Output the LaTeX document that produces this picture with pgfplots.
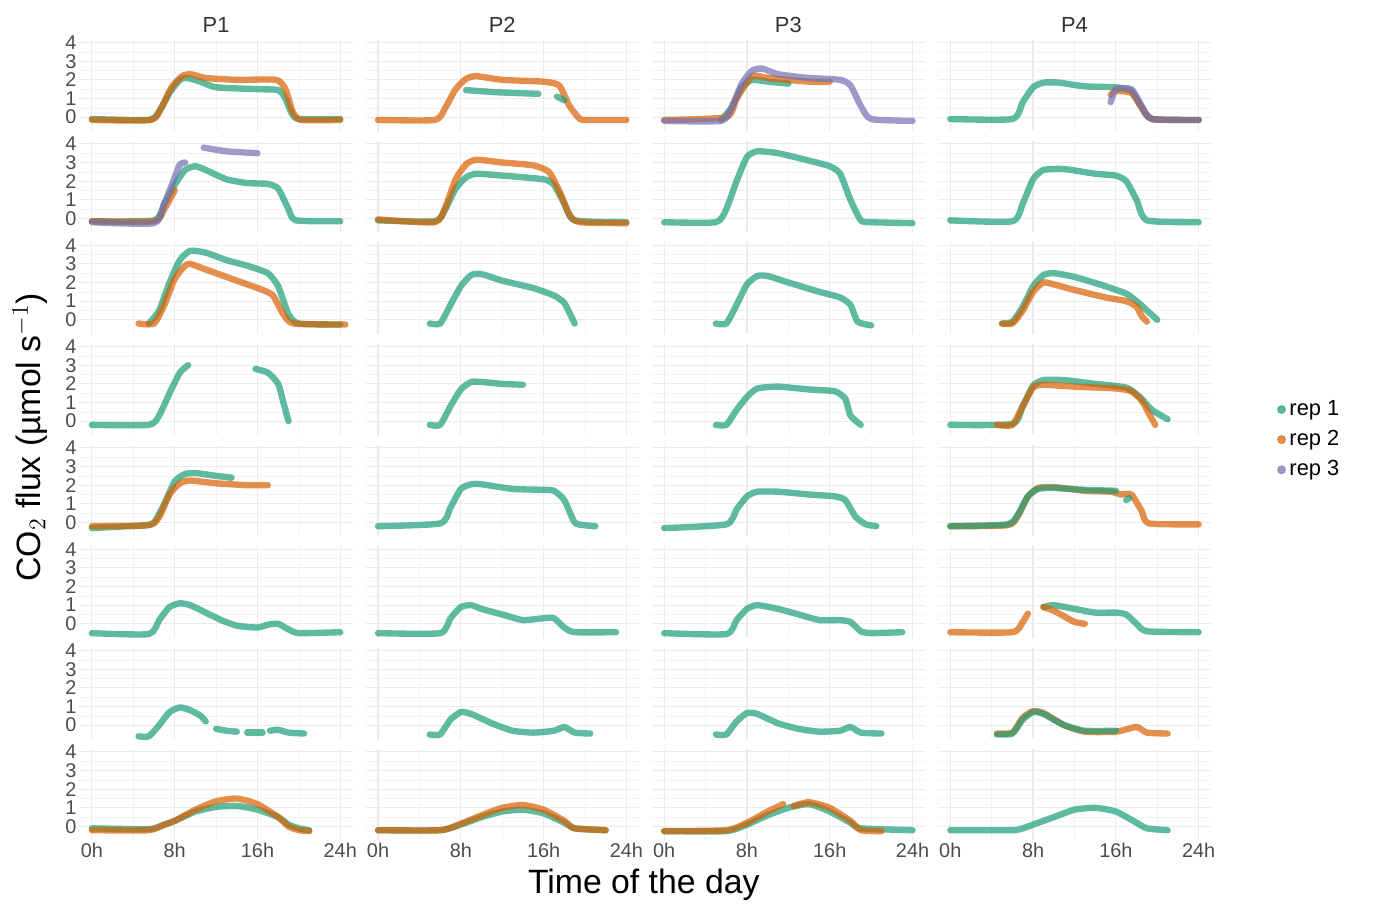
\documentclass[border=0pt]{standalone}
\usepackage{pgfplots}
\pgfplotsset{compat=1.18}
\usepgfplotslibrary{groupplots}
\usepackage{fontspec}
\setmainfont{Liberation Sans}
\definecolor{ca}{HTML}{1B9E77}
\definecolor{cb}{HTML}{D95F02}
\definecolor{cc}{HTML}{7570B3}
\definecolor{gridc}{HTML}{EBEBEB}
\tikzset{
 r1/.style={color=ca,line width=3.2pt,opacity=0.7,line cap=round,line join=round,smooth,tension=0.35},
 r2/.style={color=cb,line width=3.2pt,opacity=0.7,line cap=round,line join=round,smooth,tension=0.35},
 r3/.style={color=cc,line width=3.2pt,opacity=0.7,line cap=round,line join=round,smooth,tension=0.35},
}
\newcommand{\rl}[1]{\node[rotate=-90,font=\fontsize{11}{12}\selectfont,text=black!80] at (rel axis cs:1.045,0.5) {#1};}
\begin{document}
\begin{tikzpicture}
\begin{groupplot}[
 group style={group size=4 by 8, horizontal sep=6.5pt, vertical sep=5pt,
   xticklabels at=edge bottom, yticklabels at=edge left},
 width=137.5pt, height=46pt, scale only axis,
 xmin=-1.2, xmax=25.2, ymin=-0.75, ymax=4.15,
 axis line style={draw=none}, tick style={draw=none},
 xtick={0,8,16,24}, xticklabels={0h,8h,16h,24h},
 minor xtick={4,12,20}, ytick={0,1,2,3,4}, minor ytick={0.5,1.5,2.5,3.5},
 grid=both, major grid style={gridc,line width=0.6pt}, minor grid style={gridc!60,line width=0.3pt},
 tick label style={font=\fontsize{10}{11}\selectfont,text=black!70},
 /pgf/number format/assume math mode=true,
 xticklabel style={yshift=2pt}, yticklabel style={xshift=2pt},
 title style={font=\fontsize{11}{12}\selectfont,text=black!80,yshift=-6pt},
]
% ---------- 400ppm
\nextgroupplot[title=P1]
\addplot[r1] coordinates {(0,-0.1)(5.5,-0.15)(6.5,0.3)(7.5,1.3)(8.5,2.0)(9.2,2.1)(10.5,1.9)(12,1.6)(16,1.5)(18,1.45)(18.7,1.0)(19.3,0.2)(20,-0.1)(24,-0.1)};
\addplot[r2] coordinates {(0,-0.15)(5.7,-0.15)(6.7,0.5)(7.7,1.6)(8.7,2.2)(9.6,2.3)(11,2.1)(14,2.0)(17.8,2.0)(18.7,1.5)(19.4,0.3)(20.2,-0.15)(24,-0.15)};
\nextgroupplot[title=P2]
\addplot[r2] coordinates {(0,-0.15)(5.5,-0.15)(6.5,0.5)(7.5,1.5)(8.5,2.05)(9.5,2.2)(12,2.0)(16,1.9)(17.5,1.7)(18.5,0.6)(19.5,-0.1)(20.3,-0.15)(24,-0.15)};
\addplot[r1] coordinates {(8.5,1.45)(11,1.35)(13,1.3)(15.5,1.25)};
\addplot[r1] coordinates {(17.3,1.1)(18,0.9)};
\nextgroupplot[title=P3]
\addplot[r1] coordinates {(5.5,-0.15)(6.5,0.5)(7.5,1.6)(8.5,2.0)(10,1.9)(12,1.8)};
\addplot[r1] coordinates {(15.5,1.5)};
\addplot[r2] coordinates {(0,-0.15)(6,0)(7,1)(8.5,2.2)(10,2.1)(14,1.9)(16,1.9)};
\addplot[r3] coordinates {(0,-0.2)(5.5,-0.2)(6.5,0.5)(7.5,1.8)(8.5,2.5)(9.5,2.6)(11,2.3)(14,2.1)(17,2.0)(18,1.7)(19,0.6)(20,-0.1)(24,-0.2)};
\nextgroupplot[title=P4]
\addplot[r1] coordinates {(0,-0.1)(6,-0.1)(7,0.8)(8,1.6)(9,1.85)(10.5,1.85)(13,1.65)(16,1.6)(17.5,1.4)(18.5,0.5)(19.5,-0.1)(24,-0.15)};
\addplot[r2] coordinates {(15.5,1.2)(16,1.4)(17.5,1.3)(18.5,0.5)(19.5,-0.1)(24,-0.15)};
\addplot[r3] coordinates {(15.5,0.8)(16,1.5)(17.5,1.5)(18.5,0.6)(19.5,-0.1)(24,-0.15)};
\rl{400ppm}
% ---------- 600ppm
\nextgroupplot
\addplot[r1] coordinates {(0,-0.15)(6,-0.1)(7,0.8)(8,1.8)(9,2.6)(10,2.8)(11,2.6)(13,2.1)(15,1.9)(17,1.85)(18,1.6)(19,0.5)(19.7,-0.1)(24,-0.15)};
\addplot[r2] coordinates {(0,-0.15)(6,-0.15)(7,0.5)(8,1.5)};
\addplot[r3] coordinates {(0,-0.2)(6,-0.25)(7,0.8)(8,2.2)(8.5,2.9)(9,3.0)};
\addplot[r3] coordinates {(10.8,3.8)(13,3.6)(16,3.5)};
\nextgroupplot
\addplot[r1] coordinates {(0,-0.1)(5.5,-0.15)(6.5,0.5)(7.5,1.6)(8.5,2.2)(9.5,2.4)(12,2.3)(16,2.1)(17,1.8)(18,0.8)(19,-0.1)(24,-0.2)};
\addplot[r2] coordinates {(0,-0.05)(5.5,-0.2)(6.5,0.6)(7.5,2.1)(8.5,2.9)(9.5,3.15)(12,3.0)(15,2.85)(16.5,2.5)(17.5,1.5)(18.5,0.2)(19.5,-0.2)(24,-0.25)};
\nextgroupplot
\addplot[r1] coordinates {(0,-0.2)(5,-0.2)(6,0.5)(7,2.0)(8,3.3)(9,3.6)(11,3.5)(14,3.1)(16,2.8)(17,2.4)(18,1.0)(19,-0.1)(20,-0.2)(24,-0.25)};
\nextgroupplot
\addplot[r1] coordinates {(0,-0.1)(6,-0.15)(7,0.8)(8,2.1)(9,2.6)(11,2.65)(14,2.4)(16,2.3)(17,2.0)(18,1.0)(19,-0.1)(24,-0.2)};
\rl{600ppm}
% ---------- 800ppm
\nextgroupplot
\addplot[r1] coordinates {(5.5,-0.2)(6.5,0.5)(7.5,2.0)(8.5,3.2)(9.5,3.7)(11,3.6)(13,3.2)(15,2.9)(17,2.5)(18,1.8)(19,0.3)(20,-0.2)(24,-0.25)};
\addplot[r2] coordinates {(4.5,-0.2)(6,-0.2)(7,0.8)(8,2.2)(9,2.9)(9.5,3.0)(11,2.7)(14,2.1)(16.5,1.6)(17.5,1.3)(18.5,0.3)(19.5,-0.2)(24.5,-0.25)};
\nextgroupplot
\addplot[r1] coordinates {(5,-0.2)(6,-0.2)(7,0.8)(8,1.8)(9,2.4)(10,2.45)(12,2.1)(15,1.7)(17,1.3)(18,0.9)(19,-0.2)};
\nextgroupplot
\addplot[r1] coordinates {(5,-0.2)(6,-0.2)(7,0.8)(8,1.9)(9,2.35)(10,2.35)(12,2.0)(15,1.5)(17,1.2)(18,0.8)(18.7,-0.1)(20,-0.3)};
\nextgroupplot
\addplot[r1] coordinates {(5,-0.2)(6,-0.1)(7,0.7)(8,1.8)(9,2.4)(10,2.5)(12,2.3)(15,1.8)(17,1.4)(18,1.0)(19,0.5)(20,0)};
\addplot[r2] coordinates {(5,-0.2)(6,-0.2)(7,0.5)(8,1.5)(9,2.0)(10,1.9)(12,1.6)(15,1.2)(17,1.0)(18,0.7)(18.5,0.2)(19,-0.1)};
\rl{800ppm}
% ---------- Cold
\nextgroupplot
\addplot[r1] coordinates {(0,-0.2)(5.5,-0.2)(6.5,0.3)(7.5,1.5)(8.5,2.6)(9.3,3.0)};
\addplot[r1] coordinates {(15.8,2.8)(17,2.6)(18,2.0)(18.5,1.0)(19,0)};
\nextgroupplot
\addplot[r1] coordinates {(5,-0.2)(6,-0.2)(7,0.8)(8,1.7)(9,2.1)(10,2.1)(12,2.0)(14,1.95)};
\nextgroupplot
\addplot[r1] coordinates {(5,-0.2)(6,-0.2)(7,0.6)(8,1.3)(9,1.75)(11,1.85)(14,1.7)(16.5,1.6)(17.5,1.2)(18,0.3)(19,-0.2)};
\nextgroupplot[legend style={at={(rel axis cs:1.22,-0.05)},anchor=west,draw=none,fill=none,font=\fontsize{11}{12}\selectfont,row sep=2pt}]
\addlegendimage{only marks,mark=*,mark size=2pt,color=ca,opacity=0.7}
\addlegendimage{only marks,mark=*,mark size=2pt,color=cb,opacity=0.7}
\addlegendimage{only marks,mark=*,mark size=2pt,color=cc,opacity=0.7}
\legend{rep 1,rep 2,rep 3}
\addplot[r1] coordinates {(0,-0.2)(6,-0.15)(7,0.8)(8,1.9)(9,2.2)(11,2.2)(14,2.0)(17,1.8)(18.3,1.3)(19.5,0.6)(21,0.1)};
\addplot[r2] coordinates {(4.5,-0.2)(6,-0.2)(7,0.8)(8,1.8)(9,1.95)(12,1.85)(16,1.75)(17.5,1.6)(18.5,1.1)(19.2,0.4)(19.8,-0.2)};
\rl{Cold}
% ---------- DryCold
\nextgroupplot
\addplot[r1] coordinates {(0,-0.3)(5,-0.15)(6,0)(7,1.0)(8,2.2)(9,2.6)(10,2.65)(12,2.5)(13.5,2.4)};
\addplot[r2] coordinates {(0,-0.2)(5.5,-0.15)(6.5,0.3)(7.5,1.5)(8.5,2.1)(9.5,2.25)(12,2.1)(15,2.0)(17,2.0)};
\nextgroupplot
\addplot[r1] coordinates {(0,-0.2)(6,-0.05)(7,0.8)(8,1.8)(9,2.05)(10,2.05)(13,1.8)(16,1.75)(17,1.7)(18,1.2)(19,0)(20,-0.15)(21,-0.2)};
\nextgroupplot
\addplot[r1] coordinates {(0,-0.3)(6,-0.1)(7,0.7)(8,1.4)(9,1.65)(11,1.65)(14,1.5)(16.5,1.4)(17.5,1.2)(18.5,0.3)(19.5,-0.1)(20.5,-0.2)};
\nextgroupplot
\addplot[r2] coordinates {(0,-0.2)(5.5,-0.15)(6.5,0.3)(7.5,1.4)(8.5,1.85)(10,1.9)(13,1.7)(15.5,1.65)(16.5,1.5)(17.5,1.5)(18.5,0.6)(19.2,-0.05)(24,-0.1)};
\addplot[r1] coordinates {(0,-0.2)(5.5,-0.1)(6.5,0.4)(7.5,1.4)(8.5,1.8)(10,1.85)(13,1.75)(16,1.7)};
\addplot[r1] coordinates {(17,1.2)(17.3,1.3)};
\rl{DryCold}
% ---------- DryHot
\nextgroupplot
\addplot[r1] coordinates {(0,-0.5)(5.5,-0.55)(6.5,0.2)(7.5,0.9)(8.5,1.1)(9.5,1.0)(11,0.6)(12.5,0.2)(14,-0.1)(16,-0.2)(17,-0.05)(18,0)(19,-0.3)(20,-0.5)(24,-0.45)};
\nextgroupplot
\addplot[r1] coordinates {(0,-0.5)(6,-0.5)(7,0.3)(8,0.9)(9,1.0)(10,0.8)(12,0.5)(14,0.2)(16,0.3)(17,0.3)(18,-0.2)(19,-0.45)(23,-0.45)};
\nextgroupplot
\addplot[r1] coordinates {(0,-0.5)(6,-0.55)(7,0.2)(8,0.8)(9,1.0)(11,0.8)(13,0.5)(15,0.2)(17,0.2)(18,0.1)(19,-0.4)(20,-0.5)(23,-0.45)};
\nextgroupplot
\addplot[r1] coordinates {(9,0.9)(10,1.0)(12,0.8)(14,0.6)(16,0.6)(17,0.5)(18,0)(19,-0.4)(24,-0.45)};
\addplot[r2] coordinates {(0,-0.45)(6,-0.45)(7,0.1)(7.5,0.55)};
\addplot[r2] coordinates {(9,0.9)(10,0.7)(11,0.4)(12,0.1)(13,0)};
\rl{DryHot}
% ---------- Hot
\nextgroupplot
\addplot[r1] coordinates {(4.5,-0.6)(5.5,-0.6)(6.5,0)(7.5,0.7)(8.5,0.95)(9.5,0.8)(10.5,0.5)(11,0.2)};
\addplot[r1] coordinates {(12,-0.2)(13,-0.3)(14,-0.35)};
\addplot[r1] coordinates {(15,-0.4)(16.5,-0.4)};
\addplot[r1] coordinates {(17.2,-0.3)(18,-0.25)(19,-0.4)(20.5,-0.45)};
\nextgroupplot
\addplot[r1] coordinates {(5,-0.5)(6,-0.5)(7,0.3)(8,0.7)(9,0.6)(11,0.1)(13,-0.3)(15,-0.4)(17,-0.3)(18,-0.1)(19,-0.4)(20.5,-0.45)};
\nextgroupplot
\addplot[r1] coordinates {(5,-0.5)(6,-0.5)(7,0.2)(8,0.65)(9,0.6)(11,0.1)(13,-0.2)(15,-0.35)(17,-0.3)(18,-0.1)(19,-0.4)(21,-0.45)};
\nextgroupplot
\addplot[r2] coordinates {(4.5,-0.45)(6,-0.4)(7,0.4)(8,0.75)(9,0.65)(11,0)(13,-0.35)(16,-0.35)(18,-0.1)(19,-0.4)(21,-0.45)};
\addplot[r1] coordinates {(4.5,-0.5)(6,-0.45)(7,0.3)(8,0.7)(9,0.6)(11,0)(13,-0.3)(16,-0.3)};
\rl{Hot}
% ---------- LowPAR
\nextgroupplot
\addplot[r1] coordinates {(0,-0.1)(5,-0.15)(6,-0.1)(7,0.1)(8,0.3)(10,0.8)(12,1.05)(14,1.1)(16,0.9)(18,0.5)(19,0.1)(20,-0.1)(21,-0.2)};
\addplot[r2] coordinates {(0,-0.2)(5.5,-0.2)(7,0.1)(8,0.3)(10,0.9)(12,1.35)(14,1.5)(16,1.2)(18,0.5)(19,0)(20,-0.2)(21,-0.25)};
\nextgroupplot
\addplot[r1] coordinates {(0,-0.2)(6,-0.2)(8,0.1)(10,0.5)(12,0.8)(14,0.9)(16,0.7)(18,0.2)(19,-0.1)(22,-0.2)};
\addplot[r2] coordinates {(0,-0.2)(6,-0.2)(8,0.15)(10,0.6)(12,1.0)(14,1.15)(16,0.9)(18,0.3)(19,-0.1)(22,-0.2)};
\nextgroupplot
\addplot[r1] coordinates {(0,-0.25)(6,-0.25)(8,0.1)(10,0.6)(12,1.0)(14,1.2)(16,0.8)(18,0.2)(19,-0.1)(24,-0.2)};
\addplot[r2] coordinates {(0,-0.25)(6,-0.2)(8,0.2)(10,0.8)(11.5,1.2)};
\addplot[r2] coordinates {(12.5,1.1)(14,1.3)(16,1.0)(18,0.3)(19,-0.2)(21,-0.25)};
\nextgroupplot
\addplot[r1] coordinates {(0,-0.2)(6,-0.2)(7,-0.1)(8,0.1)(10,0.5)(12,0.9)(14,1.0)(16,0.8)(18,0.2)(19,-0.1)(21,-0.2)};
\rl{LowPAR}
\end{groupplot}
\node[rotate=90,font=\fontsize{17}{18}\selectfont] at ([xshift=-25pt,yshift=-200pt]group c1r1.north west) {CO$_2$ flux (µmol s$^{-1}$)};
\node[font=\fontsize{17}{18}\selectfont] at ([xshift=284pt,yshift=-22.5pt]group c1r8.south west) {Time of the day};
\pgfresetboundingbox
\path ([xshift=-40pt,yshift=20pt]group c1r1.north west) rectangle ([xshift=83.5pt,yshift=-39pt]group c4r8.south east);
\end{tikzpicture}
\end{document}
